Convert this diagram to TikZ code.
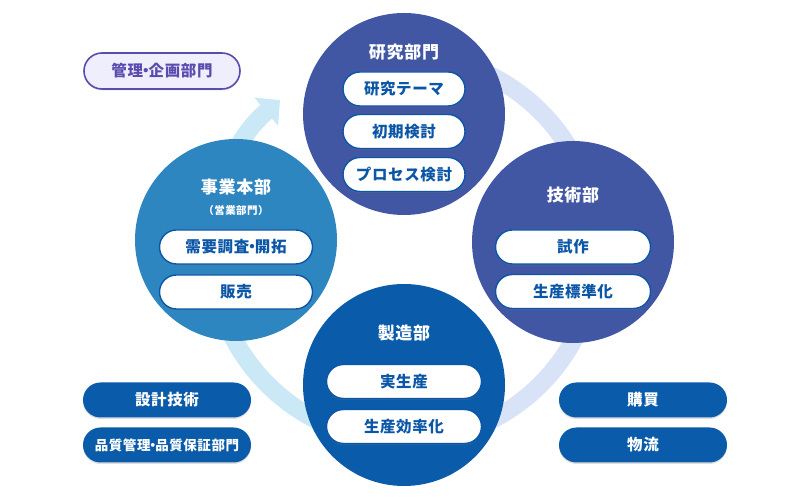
\documentclass[tikz,border=0pt]{standalone}
\usepackage{fontspec}
\setmainfont{Noto Sans CJK JP}[LetterSpace=4]
\usetikzlibrary{arrows.meta,shadows}

\definecolor{kenblue}{HTML}{4257A3}
\definecolor{jigyoblue}{HTML}{2E86C0}
\definecolor{seizoblue}{HTML}{0A5BA9}
\definecolor{pillblue}{HTML}{0B56A6}
\definecolor{ringcyan}{HTML}{CBE8F7}
\definecolor{ringlav}{HTML}{D8E3F8}
\definecolor{kanripurple}{HTML}{5B4BAE}
\definecolor{kanrifill}{HTML}{EFEEFD}

% narrow middle dot
\newcommand{\nkdot}{\kern-0.32em・\kern-0.32em}

\tikzset{
  dept/.style={circle, minimum size=202pt, inner sep=0pt},
  depttitle/.style={text=white, font=\bfseries\fontsize{17}{19}\selectfont},
  task/.style={draw=pillblue, line width=1.4pt, fill=white, rounded corners=17pt,
    minimum height=34pt, inner sep=0pt, text=pillblue,
    font=\bfseries\fontsize{15.5}{17}\selectfont,
    drop shadow={opacity=0.25, shadow xshift=0pt, shadow yshift=-1.5pt}},
  side/.style={fill=seizoblue, rounded corners=17.5pt, minimum width=168pt,
    minimum height=35pt, inner sep=0pt, text=white,
    font=\bfseries\fontsize{15.5}{17}\selectfont,
    drop shadow={opacity=0.25, shadow xshift=0pt, shadow yshift=-1.5pt}},
}

\begin{document}
\begin{tikzpicture}[x=1pt, y=1pt]
  \useasboundingbox (0,0) rectangle (800,500);

  % Ring behind the circles
  \draw[ringlav, line width=18pt] (404,252) ++(100:193) arc[start angle=100, end angle=-92, radius=193];
  \draw[ringcyan, line width=18pt, -{Triangle[width=36pt,length=18pt]}]
    (404,252) ++(270:193) arc[start angle=270, end angle=130, radius=193];

  % Departments
  \node[dept, fill=kenblue] (kenkyu) at (404,386) {};
  \node[dept, fill=kenblue] (gijutsu) at (573,258) {};
  \node[dept, fill=seizoblue] (seizo) at (404,115) {};
  \node[dept, fill=jigyoblue] (jigyo) at (236,260) {};

  % Titles
  \node[depttitle] (kenkyuT) at (404,448) {研究部門};
  \node[depttitle] (gijutsuT) at (573,305) {技術部};
  \node[depttitle] (seizoT) at (404,167) {製造部};
  \node[depttitle] (jigyoT) at (236,313) {事業本部};
  \node[text=white, font=\bfseries\fontsize{10.5}{12}\selectfont] (jigyoS) at (236,289) {（営業部門）};

  % Tasks
  \node[task, minimum width=122pt] (theme) at (404,411) {研究テーマ};
  \node[task, minimum width=122pt] (shoki) at (404,368.5) {初期検討};
  \node[task, minimum width=122pt] (process) at (404,325.5) {プロセス検討};

  \node[task, minimum width=155pt] (shisaku) at (573,253) {試作};
  \node[task, minimum width=155pt] (hyojun) at (573,208.5) {生産標準化};

  \node[task, minimum width=153pt] (juyo) at (236,253) {需要調査\nkdot 開拓};
  \node[task, minimum width=153pt] (hanbai) at (236,208) {販売};

  \node[task, minimum width=155pt] (jisei) at (404,118.5) {実生産};
  \node[task, minimum width=155pt] (koritsu) at (404,73.5) {生産効率化};

  % Side units
  \node[draw=kanripurple, line width=1.6pt, fill=kanrifill, rounded corners=18pt,
    minimum width=156pt, minimum height=36pt, text=kanripurple,
    font=\bfseries\fontsize{15.5}{17}\selectfont,
    drop shadow={opacity=0.25, shadow xshift=0pt, shadow yshift=-1.5pt}] (kanri) at (162,429) {管理\nkdot 企画部門};
  \node[side] (sekkei) at (167,100) {設計技術};
  \node[side, font=\bfseries\fontsize{13.5}{15}\selectfont] (hinshitsu) at (167,55) {品質管理\nkdot 品質保証部門};
  \node[side] (konbai) at (643,100) {購買};
  \node[side] (butsuryu) at (643,55) {物流};
\end{tikzpicture}
\end{document}
